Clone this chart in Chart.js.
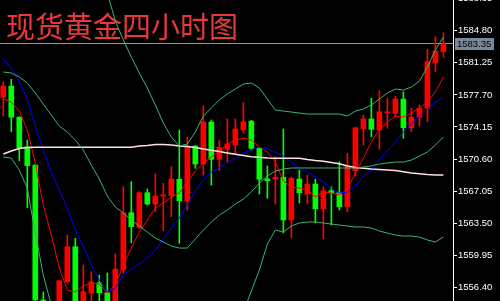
<!DOCTYPE html>
<html>
<head>
<meta charset="utf-8">
<title>现货黄金四小时图</title>
<script src="https://cdn.jsdelivr.net/npm/chart.js@4.4.0/dist/chart.umd.min.js"></script>
<style>
  html, body { margin: 0; padding: 0; background: #000; }
</style>
</head>
<body>
<canvas id="goldChart" width="500" height="301"></canvas>
<script>
// 4H spot gold chart: candles + moving averages + bollinger bands

const chartTitle = "现货黄金四小时图";
const currentPrice = 1583.35;

// price scale labels on the right
const tickValues = [1556.40, 1559.95, 1563.50, 1567.05, 1570.60, 1574.15, 1577.70, 1581.25, 1584.80, 1588.35];

// ========== Candles ==========
const candleOpen = [
  1577.43, 1578.68, 1575.22, 1571.96, 1569.94, 1555.00, 1553.00, 1552.00, 1557.02, 1560.90,
  1554.50, 1555.80, 1556.91, 1555.80, 1554.50, 1558.32, 1564.66, 1563.04, 1566.87, 1565.62,
  1566.51, 1566.54, 1568.37, 1565.95, 1572.04, 1570.05, 1574.70, 1570.57, 1571.68, 1572.15,
  1573.81, 1574.80, 1571.79, 1568.40, 1568.36, 1568.58, 1563.85, 1568.39, 1566.73, 1567.83,
  1565.10, 1567.09, 1566.91, 1565.32, 1569.30, 1573.96, 1575.03, 1573.81, 1575.73, 1575.66,
  1577.24, 1574.07, 1575.22, 1576.21, 1581.26, 1582.48
];
const candleHigh = [
  1579.16, 1579.42, 1575.30, 1572.70, 1570.00, 1555.90, 1554.60, 1557.20, 1562.19, 1561.83,
  1558.87, 1558.13, 1557.76, 1558.00, 1560.09, 1567.54, 1568.09, 1567.00, 1567.28, 1568.94,
  1567.91, 1569.75, 1573.81, 1573.00, 1572.10, 1576.47, 1574.92, 1572.70, 1575.03, 1575.03,
  1576.83, 1574.90, 1571.90, 1569.83, 1570.86, 1573.92, 1568.60, 1569.38, 1568.83, 1568.36,
  1567.54, 1567.54, 1570.30, 1571.23, 1574.10, 1575.47, 1577.32, 1578.16, 1577.32, 1577.57,
  1578.05, 1576.21, 1576.58, 1582.74, 1584.14, 1584.58
];
const candleLow = [
  1575.36, 1573.62, 1570.41, 1565.21, 1554.50, 1552.00, 1550.50, 1551.50, 1556.90, 1554.00,
  1554.00, 1554.80, 1554.80, 1554.00, 1554.00, 1558.00, 1561.34, 1562.90, 1565.50, 1564.77,
  1562.67, 1564.22, 1561.27, 1564.96, 1569.57, 1568.83, 1567.72, 1569.31, 1570.30, 1571.12,
  1573.51, 1571.60, 1566.73, 1566.25, 1565.62, 1562.44, 1561.89, 1565.76, 1565.62, 1563.55,
  1561.78, 1563.30, 1564.96, 1564.77, 1568.70, 1572.15, 1573.07, 1571.68, 1574.00, 1575.28,
  1572.89, 1573.62, 1574.25, 1574.73, 1580.26, 1581.86
];
const candleClose = [
  1578.68, 1575.22, 1571.85, 1569.86, 1555.00, 1553.00, 1552.00, 1557.13, 1560.90, 1554.50,
  1555.91, 1557.02, 1555.80, 1554.80, 1558.43, 1564.66, 1563.11, 1566.87, 1565.62, 1566.51,
  1566.65, 1568.39, 1565.99, 1572.04, 1570.05, 1574.70, 1570.57, 1571.90, 1572.26, 1573.92,
  1574.73, 1571.79, 1568.36, 1568.20, 1568.58, 1563.85, 1568.47, 1566.87, 1567.83, 1565.10,
  1567.09, 1566.87, 1565.32, 1569.83, 1574.07, 1575.03, 1573.89, 1575.84, 1575.84, 1577.24,
  1574.07, 1575.22, 1576.21, 1581.37, 1582.55, 1583.35
];

// ========== Indicator lines ==========
const maFast = [
  1577.24, 1576.91, 1575.91, 1573.81, 1570.16, 1565.51, 1562.19, 1558.54, 1556.10, 1555.88,
  1556.55, 1556.88, 1556.77, 1555.77, 1556.66, 1558.87, 1560.75, 1562.52, 1563.85, 1565.18,
  1565.73, 1566.40, 1566.84, 1568.06, 1569.27, 1570.16, 1570.82, 1571.49, 1572.26, 1572.70,
  1572.93, 1572.70, 1571.93, 1571.38, 1570.27, 1568.17, 1567.50, 1567.39, 1567.17, 1566.40,
  1566.95, 1566.84, 1566.62, 1567.28, 1569.05, 1570.71, 1572.48, 1573.92, 1574.70, 1575.36,
  1575.25, 1575.69, 1576.25, 1576.91, 1578.02, 1579.68
];
const maSlow = [
  1581.67, 1580.67, 1579.12, 1577.24, 1574.25, 1571.60, 1569.16, 1567.17, 1565.18, 1562.74,
  1560.97, 1558.87, 1557.21, 1555.88, 1556.32, 1557.76, 1558.43, 1558.98, 1559.64, 1560.53,
  1561.75, 1562.96, 1564.07, 1565.62, 1567.06, 1568.28, 1569.16, 1569.61, 1570.16, 1570.71,
  1571.27, 1571.60, 1571.93, 1571.71, 1571.38, 1570.93, 1570.27, 1569.61, 1569.16, 1568.61,
  1568.06, 1567.39, 1566.84, 1566.95, 1567.61, 1568.72, 1569.38, 1570.49, 1571.49, 1572.48,
  1573.59, 1574.48, 1575.36, 1576.14, 1576.91, 1577.46
];
const maLong = [
  1571.16, 1571.49, 1571.76, 1571.87, 1571.90, 1571.90, 1571.90, 1571.90, 1571.90, 1571.90,
  1571.90, 1571.90, 1571.90, 1571.90, 1571.90, 1571.90, 1571.90, 1572.04, 1572.10, 1572.21,
  1572.21, 1572.15, 1572.04, 1571.99, 1571.87, 1571.71, 1571.56, 1571.43, 1571.27, 1571.13,
  1570.99, 1570.86, 1570.79, 1570.71, 1570.68, 1570.68, 1570.68, 1570.68, 1570.55, 1570.44,
  1570.35, 1570.21, 1570.07, 1569.83, 1569.66, 1569.57, 1569.49, 1569.44, 1569.38, 1569.33,
  1569.20, 1569.05, 1568.97, 1568.89, 1568.83, 1568.83
];
// null = band is off the visible price range there
const bandUpper = [
  null, null, null, null, null, null, null, null, null, null,
  null, null, 1590.97, 1588.97, 1585.88, 1583.77, 1581.89, 1580.12, 1578.46, 1576.58,
  1574.59, 1573.04, 1572.04, 1572.26, 1573.59, 1575.36, 1576.25, 1577.13, 1577.80, 1578.35,
  1578.90, 1579.01, 1578.46, 1577.24, 1576.03, 1575.91, 1575.80, 1575.69, 1575.58, 1575.58,
  1575.58, 1575.58, 1575.58, 1575.36, 1575.91, 1576.14, 1576.58, 1577.24, 1577.91, 1578.35,
  1578.24, 1578.57, 1579.23, 1580.78, 1582.67, 1584.10
];
const bandMiddle = [
  1580.23, 1580.12, 1579.68, 1579.01, 1577.91, 1576.69, 1575.47, 1574.25, 1573.59, 1572.70,
  1571.60, 1569.94, 1568.39, 1566.51, 1565.29, 1564.63, 1563.85, 1563.19, 1562.52, 1561.86,
  1561.42, 1560.97, 1560.75, 1560.75, 1561.75, 1562.74, 1563.63, 1564.40, 1564.96, 1565.62,
  1566.17, 1566.95, 1567.95, 1568.72, 1569.27, 1569.50, 1569.61, 1569.61, 1569.61, 1569.61,
  1569.61, 1569.61, 1569.61, 1569.61, 1569.61, 1569.72, 1569.83, 1570.05, 1570.16, 1570.27,
  1570.27, 1570.49, 1570.93, 1571.38, 1572.15, 1573.04
];
const bandLower = [
  1570.82, 1570.71, 1569.38, 1567.39, 1562.41, 1557.76, 1554.44, null, null, null,
  null, null, null, null, null, null, null, null, null, null,
  null, null, null, null, null, null, null, null, null, null,
  1553.67, 1555.99, 1558.32, 1561.19, 1562.74, 1562.52, 1563.19, 1563.52, 1563.63, 1563.63,
  1563.52, 1563.41, 1563.30, 1563.19, 1563.08, 1563.08, 1562.97, 1562.63, 1562.41, 1562.19,
  1562.08, 1562.08, 1561.97, 1561.64, 1561.42, 1561.97
];

const UP_COLOR = "#ff0000";
const DOWN_COLOR = "#00ff00";
const BAND_COLOR = "#3cb371";

// ========== Helpers ==========
function candleColors() {
  return candleOpen.map((o, i) => (candleClose[i] >= o ? UP_COLOR : DOWN_COLOR));
}

function lineSet(values, color, width) {
  return {
    type: "line",
    data: values.map((v, i) => ({ x: i, y: v })),
    borderColor: color,
    borderWidth: width,
    pointRadius: 0,
    tension: 0,
    spanGaps: false,
    order: 0,
  };
}

// title + current price line + price tag
const overlayPlugin = {
  id: "overlay",
  beforeDatasetsDraw(chart) {
    const ctx = chart.ctx;
    ctx.save();
    ctx.font = '29px "Noto Sans CJK SC"';
    ctx.fillStyle = "#e8383c";
    ctx.textBaseline = "middle";
    ctx.textAlign = "left";
    ctx.fillText(chartTitle, 6, 27);

    const y = Math.floor(chart.scales.y.getPixelForValue(currentPrice)) + 0.5;
    ctx.strokeStyle = "#8c9aa8";
    ctx.lineWidth = 1;
    ctx.beginPath();
    ctx.moveTo(chart.chartArea.left, y);
    ctx.lineTo(chart.chartArea.right, y);
    ctx.stroke();
    ctx.restore();
  },
  afterDraw(chart) {
    const ctx = chart.ctx;
    const y = chart.scales.y.getPixelForValue(currentPrice);
    ctx.save();
    ctx.fillStyle = "#778899";
    ctx.fillRect(455, Math.round(y) - 6, 39, 12);
    ctx.fillStyle = "#000";
    ctx.font = '9.5px "Liberation Sans"';
    ctx.textBaseline = "middle";
    ctx.textAlign = "left";
    ctx.fillText(currentPrice.toFixed(2), 457, Math.round(y));
    ctx.restore();
  },
};

// ========== Chart ==========
function renderGoldChart() {
  const ctx = document.getElementById("goldChart");
  const colors = candleColors();

  new Chart(ctx, {
    type: "bar",
    data: {
      datasets: [
        lineSet(bandUpper, BAND_COLOR, 1),
        lineSet(bandMiddle, BAND_COLOR, 1),
        lineSet(bandLower, BAND_COLOR, 1),
        lineSet(maLong, "#fde2e2", 1.5),
        lineSet(maSlow, "#0000ff", 1),
        lineSet(maFast, "#ff0000", 1),
        {
          // bodies
          type: "bar",
          data: candleOpen.map((o, i) => ({ x: i, y: [o, candleClose[i]] })),
          backgroundColor: colors,
          borderWidth: 0,
          barThickness: 5,
          minBarLength: 1,
          grouped: false,
          order: 1,
        },
        {
          // wicks
          type: "bar",
          data: candleLow.map((l, i) => ({ x: i, y: [l, candleHigh[i]] })),
          backgroundColor: colors,
          borderWidth: 0,
          barThickness: 1,
          grouped: false,
          order: 2,
        },
      ],
    },
    options: {
      responsive: false,
      animation: false,
      layout: { padding: 0 },
      plugins: {
        legend: { display: false },
        tooltip: { enabled: false },
      },
      scales: {
        x: {
          type: "linear",
          min: -0.41,
          max: 56.2,
          offset: false,
          display: false,
        },
        y: {
          position: "right",
          min: 1554.89,
          max: 1588.2,
          beginAtZero: false,
          afterBuildTicks: (scale) => {
            scale.ticks = tickValues.map((v) => ({ value: v }));
          },
          afterFit: (scale) => {
            scale.width = 47;
            scale.paddingTop = 0;
            scale.paddingBottom = 0;
          },
          border: { color: "#ffffff", width: 1 },
          grid: { drawOnChartArea: false, color: "#ffffff", tickLength: 4 },
          ticks: {
            color: "#ffffff",
            font: { family: "Liberation Sans", size: 9.5 },
            padding: 1,
            autoSkip: false,
            callback: (v) => Number(v).toFixed(2),
          },
        },
      },
    },
    plugins: [overlayPlugin],
  });
}

window.addEventListener("DOMContentLoaded", renderGoldChart);
</script>
</body>
</html>
